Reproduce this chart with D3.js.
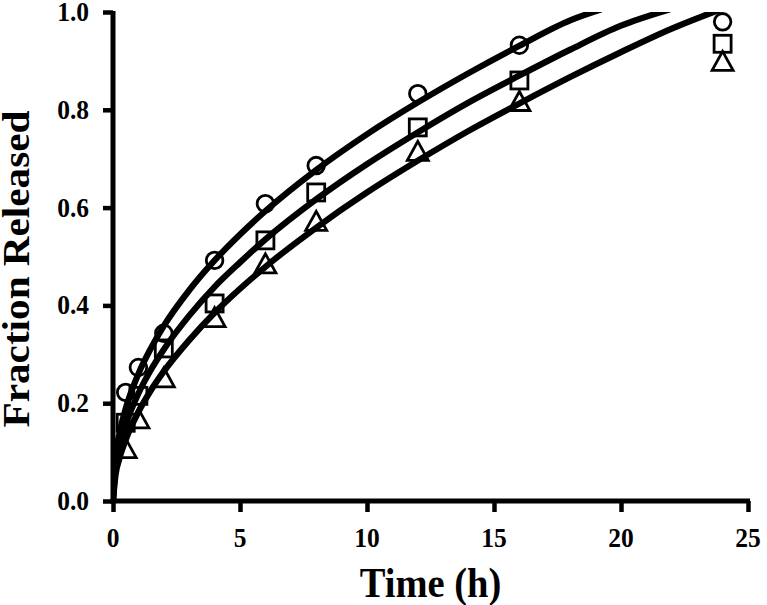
<!DOCTYPE html>
<html>
<head>
<meta charset="utf-8">
<script src="https://cdn.jsdelivr.net/npm/d3@7"></script>
<style>
  html, body { margin: 0; padding: 0; background: #fff; }
  svg { display: block; }
  text { font-family: "Liberation Serif", "Times New Roman", serif; font-weight: bold; fill: #000; }
</style>
</head>
<body>
<svg id="chart" width="767" height="605"></svg>
<script>
// ---- data ----
const times = [0.5, 1, 2, 4, 6, 8, 12, 16, 24];
const circleValues   = [0.222, 0.273, 0.343, 0.492, 0.608, 0.686, 0.833, 0.932, 0.980];
const squareValues   = [0.160, 0.215, 0.312, 0.404, 0.533, 0.631, 0.764, 0.860, 0.935];
const triangleValues = [0.108, 0.169, 0.253, 0.376, 0.486, 0.573, 0.716, 0.818, 0.900];

// fitted curves
const curveTopT    = [0, 0.1, 0.25, 0.5, 1, 1.5, 2, 3, 4, 5, 6, 8, 10, 12, 14, 16, 18, 19.2];
const curveTopV    = [0, 0.090, 0.137, 0.189, 0.260, 0.313, 0.358, 0.431, 0.492, 0.545, 0.593, 0.677, 0.750, 0.815, 0.875, 0.931, 0.983, 1.005];
const curveMidT    = [0, 0.1, 0.25, 0.5, 1, 1.5, 2, 3, 4, 5, 6, 8, 10, 12, 14, 16, 18, 20, 21.9];
const curveMidV    = [0, 0.070, 0.111, 0.156, 0.220, 0.269, 0.310, 0.379, 0.438, 0.488, 0.535, 0.617, 0.689, 0.754, 0.815, 0.870, 0.923, 0.972, 1.005];
const curveLowT    = [0, 0.1, 0.25, 0.5, 1, 1.5, 2, 3, 4, 5, 6, 8, 10, 12, 14, 16, 18, 20, 22, 23.9];
const curveLowV    = [0, 0.053, 0.086, 0.125, 0.182, 0.227, 0.265, 0.329, 0.385, 0.434, 0.479, 0.559, 0.631, 0.696, 0.757, 0.813, 0.867, 0.918, 0.966, 1.005];

const xTicks = [0, 5, 10, 15, 20, 25];
const yTicks = [0.0, 0.2, 0.4, 0.6, 0.8, 1.0];
const xTitle = "Time (h)";
const yTitle = "Fraction Released";

// ---- layout ----
const svg = d3.select("#chart");
const x = d3.scaleLinear().domain([0, 25]).range([113, 748]);
const y = d3.scaleLinear().domain([0, 1]).range([501, 12]);
const vStretch = 1.07;

// clip to plot area
svg.append("defs").append("clipPath").attr("id", "plotclip")
  .append("rect").attr("x", x(0)).attr("y", y(1)).attr("width", x(25) - x(0) + 20).attr("height", y(0) - y(1));

// markers (outlined)
const mk = svg.append("g").attr("fill", "none").attr("stroke", "#000").attr("stroke-width", 2.8);
mk.selectAll("circle.pt").data(times.map((t, i) => [t, circleValues[i]])).join("circle")
  .attr("class", "pt").attr("cx", d => x(d[0])).attr("cy", d => y(d[1])).attr("r", 8.3);
const sq = 17;
mk.selectAll("rect.pt").data(times.map((t, i) => [t, squareValues[i]])).join("rect")
  .attr("class", "pt").attr("x", d => x(d[0]) - sq / 2).attr("y", d => y(d[1]) - sq / 2)
  .attr("width", sq).attr("height", sq);
const tw = 21, th = 19;
mk.selectAll("path.pt").data(times.map((t, i) => [t, triangleValues[i]])).join("path")
  .attr("class", "pt")
  .attr("d", d => {
    const cx = x(d[0]), cy = y(d[1]);
    return `M${cx},${cy - th / 2}L${cx + tw / 2},${cy + th / 2}L${cx - tw / 2},${cy + th / 2}Z`;
  });

// curves
const line = d3.line().x(d => x(d[0])).y(d => y(d[1])).curve(d3.curveMonotoneX);
const curves = [
  curveTopT.map((t, i) => [t, curveTopV[i]]),
  curveMidT.map((t, i) => [t, curveMidV[i]]),
  curveLowT.map((t, i) => [t, curveLowV[i]])
];
svg.append("g").attr("clip-path", "url(#plotclip)")
  .selectAll("path").data(curves).join("path")
  .attr("d", line).attr("fill", "none").attr("stroke", "#000")
  .attr("stroke-width", 6.2).attr("stroke-linecap", "round");

// axes
const xAxis = svg.append("g").attr("transform", `translate(0,${y(0)})`)
  .call(d3.axisBottom(x).tickValues(xTicks).tickSize(11).tickFormat(""));
const yAxis = svg.append("g").attr("transform", `translate(${x(0)},0)`)
  .call(d3.axisLeft(y).tickValues(yTicks).tickSize(10).tickFormat(""));
[xAxis, yAxis].forEach(a => {
  a.select(".domain").remove();
  a.selectAll(".tick line").attr("stroke", "#000").attr("stroke-width", 4.5);
});
svg.append("line").attr("x1", x(0) - 2.5).attr("x2", x(25) + 2).attr("y1", y(0)).attr("y2", y(0))
  .attr("stroke", "#000").attr("stroke-width", 5);
svg.append("line").attr("x1", x(0)).attr("x2", x(0)).attr("y1", y(0) + 2.5).attr("y2", y(1) - 1)
  .attr("stroke", "#000").attr("stroke-width", 5);

// tick labels
svg.append("g").selectAll("text").data(xTicks).join("text")
  .attr("transform", d => `translate(${x(d)},547) scale(1,${vStretch})`)
  .attr("text-anchor", "middle").attr("font-size", 25.5)
  .text(d => d3.format("d")(d));
svg.append("g").selectAll("text").data(yTicks).join("text")
  .attr("transform", d => `translate(89,${y(d) + 9}) scale(1,${vStretch})`)
  .attr("text-anchor", "end").attr("font-size", 25.5)
  .text(d => d3.format(".1f")(d));

// axis titles
svg.append("text")
  .attr("transform", `translate(${(x(0) + x(25)) / 2},597) scale(1,${vStretch})`)
  .attr("text-anchor", "middle").attr("font-size", 38.5).text(xTitle);
svg.append("text")
  .attr("transform", `translate(29,269) rotate(-90) scale(${vStretch},1)`)
  .attr("text-anchor", "middle").attr("font-size", 38.5).text(yTitle);
</script>
</body>
</html>
